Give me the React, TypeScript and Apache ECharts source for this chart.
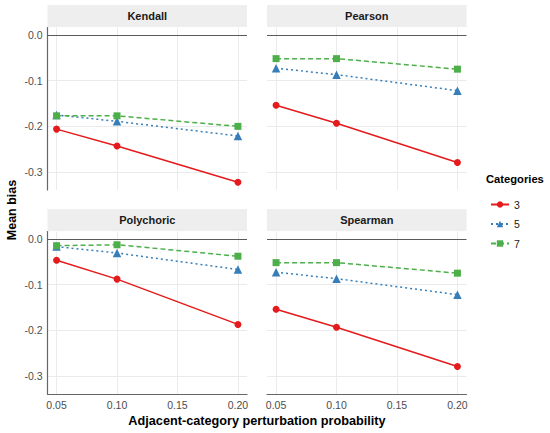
import React, { useEffect, useRef } from "react";
import * as echarts from "echarts";

const panels = ["Kendall", "Pearson", "Polychoric", "Spearman"];
const categories = ["3", "5", "7"];
const probabilities = [0.05, 0.1, 0.2];
const xTicks = [0.05, 0.1, 0.15, 0.2];
const yTicks = [-0.3, -0.2, -0.1, 0];

const kendall3 = [-0.206, -0.243, -0.322];
const kendall5 = [-0.175, -0.189, -0.221];
const kendall7 = [-0.177, -0.177, -0.2];
const pearson3 = [-0.154, -0.193, -0.279];
const pearson5 = [-0.073, -0.087, -0.122];
const pearson7 = [-0.052, -0.052, -0.075];
const polychoric3 = [-0.047, -0.088, -0.187];
const polychoric5 = [-0.017, -0.031, -0.067];
const polychoric7 = [-0.015, -0.013, -0.038];
const spearman3 = [-0.154, -0.193, -0.279];
const spearman5 = [-0.073, -0.087, -0.122];
const spearman7 = [-0.052, -0.052, -0.075];

const panelValues = [
  [kendall3, kendall5, kendall7],
  [pearson3, pearson5, pearson7],
  [polychoric3, polychoric5, polychoric7],
  [spearman3, spearman5, spearman7],
];

const colors = ["#E41A1C", "#377EB8", "#4DAF4A"];
const symbols = ["circle", "triangle", "rect"];
const symbolSizes = [7, 8.5, 7];
const lineTypes: any[] = ["solid", [2, 3], [5, 3]];

const FONT = "Liberation Sans, Arial, Helvetica, sans-serif";

// layout
const colLeft = [47.5, 267];
const colWidth = 199.5;
const rowTop = [27.5, 231.5];
const rowHeight = 162.5;
const stripH = 22;

export default function App() {
  const ref = useRef<HTMLDivElement>(null);
  useEffect(() => {
    if (!ref.current) return;
    const chart = echarts.init(ref.current, null, { renderer: "svg" });
    const grids: any[] = [];
    const xAxes: any[] = [];
    const yAxes: any[] = [];
    const series: any[] = [];
    const graphics: any[] = [];

    panels.forEach((p, i) => {
      const col = i % 2;
      const row = Math.floor(i / 2);
      const left = colLeft[col];
      const top = rowTop[row];
      grids.push({ left, top, width: colWidth, height: rowHeight, containLabel: false });
      const bottomRow = row === 1;
      const leftCol = col === 0;
      xAxes.push({
        type: "value",
        gridIndex: i,
        min: 0.0425,
        max: 0.2075,
        axisLine: { show: bottomRow, onZero: false, lineStyle: { color: "#666666", width: 1.2 } },
        axisTick: { show: false, customValues: xTicks },
        axisLabel: {
          show: bottomRow,
          customValues: xTicks,
          formatter: (v: number) => v.toFixed(2),
          fontSize: 10.5,
          color: "#4D4D4D",
          fontFamily: FONT,
          margin: 5,
        },
        splitLine: { show: true, lineStyle: { color: "#EBEBEB", width: 1 } },
      });
      yAxes.push({
        type: "value",
        gridIndex: i,
        min: -0.339,
        max: 0.016,
        axisLine: { show: leftCol, onZero: false, lineStyle: { color: "#666666", width: 1.2 } },
        axisTick: { show: false, customValues: yTicks },
        axisLabel: {
          show: leftCol,
          customValues: yTicks,
          formatter: (v: number) => (Math.abs(v) < 1e-9 ? "0.0" : v.toFixed(1)),
          fontSize: 10.5,
          color: "#4D4D4D",
          fontFamily: FONT,
          margin: 5,
        },
        splitLine: { show: true, lineStyle: { color: "#EBEBEB", width: 1 } },
      });
      categories.forEach((c, j) => {
        const vals = panelValues[i][j];
        const s: any = {
          type: "line",
          name: c,
          xAxisIndex: i,
          yAxisIndex: i,
          data: probabilities.map((x, k) => [x, vals[k]]),
          symbol: symbols[j],
          symbolSize: symbolSizes[j],
          showSymbol: true,
          lineStyle: { color: colors[j], width: 1.5, type: lineTypes[j] },
          itemStyle: { color: colors[j] },
          emphasis: { disabled: true },
          z: 3 + j,
        };
        if (j === 0) {
          s.markLine = {
            silent: true,
            symbol: ["none", "none"],
            label: { show: false },
            lineStyle: { color: "#5A5A5A", width: 1, type: "solid" },
            data: [{ yAxis: 0 }],
            z: 1,
          };
        }
        series.push(s);
      });
      graphics.push({
        type: "rect",
        shape: { x: left, y: top - stripH - 0.5, width: colWidth, height: stripH },
        style: { fill: "#EEEEEE" },
        silent: true,
      });
      graphics.push({
        type: "text",
        x: left + colWidth / 2,
        y: top - stripH / 2 - 0.5,
        style: {
          text: p,
          fontFamily: FONT,
          fontSize: 11,
          fontWeight: "bold",
          fill: "#1A1A1A",
          align: "center",
          verticalAlign: "middle",
        },
        silent: true,
      });
    });

    graphics.push({
      type: "text",
      x: 12,
      y: 210,
      rotation: Math.PI / 2,
      style: {
        text: "Mean bias",
        fontFamily: FONT,
        fontSize: 12.5,
        fontWeight: "bold",
        fill: "#000000",
        align: "center",
        verticalAlign: "middle",
      },
    });
    graphics.push({
      type: "text",
      x: 257,
      y: 421,
      style: {
        text: "Adjacent-category perturbation probability",
        fontFamily: FONT,
        fontSize: 12.7,
        fontWeight: "bold",
        fill: "#000000",
        align: "center",
        verticalAlign: "middle",
      },
    });
    graphics.push({
      type: "text",
      x: 486,
      y: 179,
      style: {
        text: "Categories",
        fontFamily: FONT,
        fontSize: 11.2,
        fontWeight: "bold",
        fill: "#000000",
        align: "left",
        verticalAlign: "middle",
      },
    });

    chart.setOption({
      animation: false,
      backgroundColor: "#FFFFFF",
      grid: grids,
      xAxis: xAxes,
      yAxis: yAxes,
      series,
      legend: {
        data: categories,
        orient: "vertical",
        left: 485,
        top: 194,
        itemWidth: 18,
        itemHeight: 8,
        itemGap: 8.5,
        selectedMode: false,
        textStyle: { fontSize: 10.5, color: "#1A1A1A", fontFamily: FONT },
      },
      graphic: graphics,
    });
    return () => chart.dispose();
  }, []);
  return (
    <div
      ref={ref}
      style={{ position: "absolute", left: 0, top: 0, width: 550, height: 433 }}
    />
  );
}
